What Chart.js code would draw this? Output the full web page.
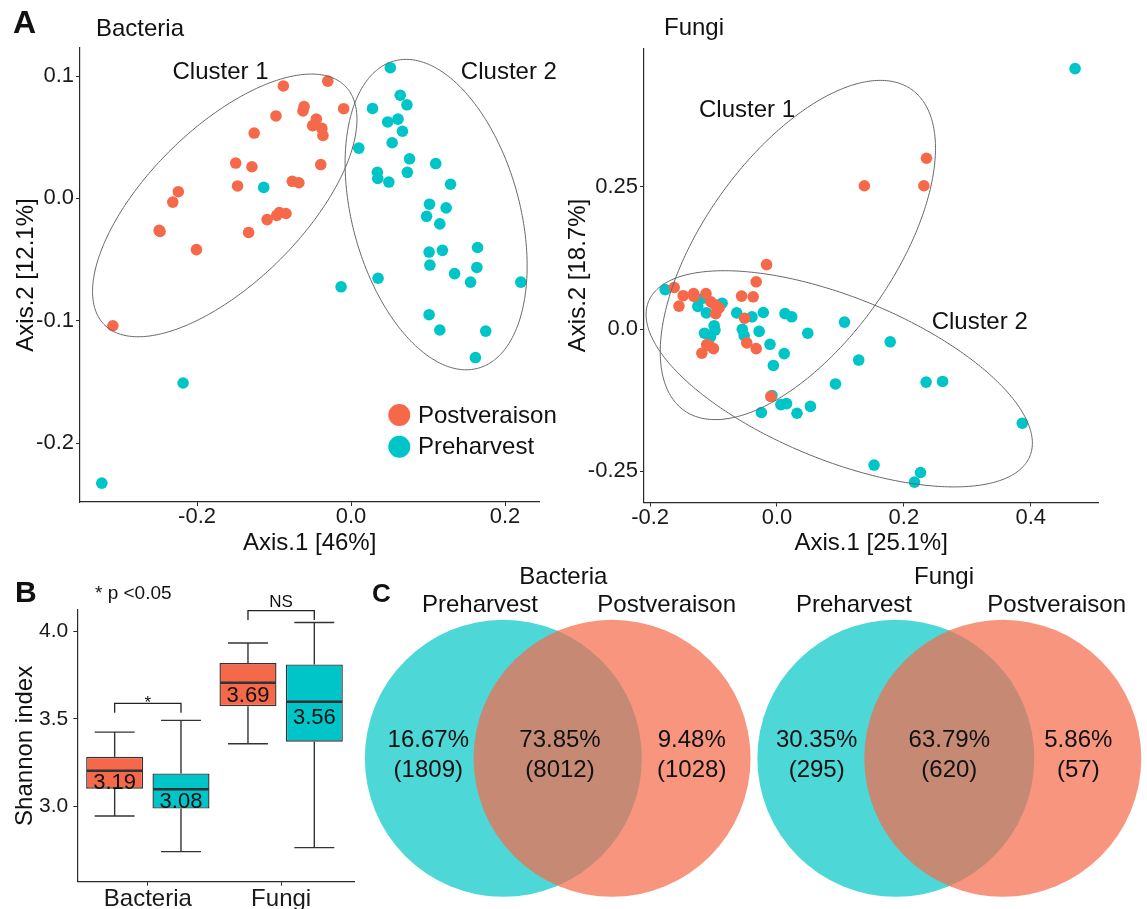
<!DOCTYPE html>
<html>
<head>
<meta charset="utf-8">
<script src="https://cdn.jsdelivr.net/npm/chart.js@4.4.0/dist/chart.umd.min.js"></script>
<style>
html,body{margin:0;padding:0;background:#fff;}
#wrap{position:relative;width:1147px;height:909px;overflow:hidden;background:#fff;}
canvas{position:absolute;}
</style>
</head>
<body>
<div id="wrap">
<canvas id="a1" width="560" height="560" style="left:0;top:0;"></canvas>
<canvas id="a2" width="587" height="560" style="left:560px;top:0;"></canvas>
<canvas id="b" width="360" height="349" style="left:0;top:560px;"></canvas>
<canvas id="c" width="792" height="354" style="left:355px;top:555px;"></canvas>
</div>
<script>
// ================= DATA =================
// Panel A - PCoA, Bacteria
const bacteriaPostveraison = [
  [-0.0879,0.0919],[-0.0302,0.0958],[-0.0096,0.0733],[-0.0610,0.0750],[-0.0624,0.0715],
  [-0.0975,0.0674],[-0.0451,0.0648],[-0.0499,0.0595],[-0.0379,0.0572],[-0.0365,0.0514],
  [-0.1258,0.0534],[-0.1498,0.0289],[-0.1287,0.0259],[-0.0393,0.0277],[-0.1474,0.0102],
  [-0.0763,0.0140],[-0.0677,0.0128],[-0.2243,0.0055],[-0.2315,-0.0030],[-0.2492,-0.0261],
  [-0.2480,-0.0270],[-0.2008,-0.0418],[-0.1330,-0.0278],[-0.1090,-0.0173],[-0.0965,-0.0138],
  [-0.0931,-0.0115],[-0.0845,-0.0123],[-0.3093,-0.1040]
];
const bacteriaPreharvest = [
  [0.0510,0.1068],[0.0639,0.0843],[0.0726,0.0765],[0.0279,0.0735],[0.0610,0.0648],
  [0.0476,0.0625],[0.0668,0.0549],[0.0534,0.0455],[0.0101,0.0411],[0.0760,0.0324],
  [0.1100,0.0285],[0.0342,0.0213],[0.0731,0.0213],[0.0347,0.0163],[0.0491,0.0134],
  [0.1292,0.0116],[-0.1134,0.0090],[0.1019,-0.0047],[0.1235,-0.0077],[0.0981,-0.0146],
  [0.1153,-0.0208],[0.1643,-0.0401],[0.1014,-0.0438],[0.1187,-0.0424],[0.1024,-0.0544],
  [0.1634,-0.0564],[0.1345,-0.0614],[0.0351,-0.0652],[0.1552,-0.0684],[0.2205,-0.0684],
  [-0.0129,-0.0722],[0.1014,-0.0950],[0.1153,-0.1075],[0.1749,-0.1084],[0.1615,-0.1300],
  [-0.2181,-0.1508],[-0.3237,-0.2326]
];
// Panel A - PCoA, Fungi
const fungiPostveraison = [
  [0.2356,0.3002],[0.1377,0.2519],[0.2315,0.2519],[-0.0164,0.1133],[-0.0328,0.0831],
  [-0.1620,0.0731],[-0.1478,0.0587],[-0.1314,0.0624],[-0.1308,0.0574],[-0.1119,0.0624],
  [-0.1545,0.0404],[-0.1042,0.0480],[-0.0983,0.0430],[-0.0913,0.0373],[-0.0966,0.0272],
  [-0.0558,0.0580],[-0.0375,0.0568],[-0.0511,0.0191],[-0.0476,-0.0242],[-0.0328,-0.0342],
  [-0.1107,-0.0273],[-0.1061,-0.0292],[-0.1001,-0.0342],[-0.1184,-0.0423],[-0.0098,-0.1183]
];
const fungiPreharvest = [
  [0.4698,0.4577],[-0.1762,0.0694],[-0.1166,0.0543],[-0.1248,0.0399],[-0.1113,0.0285],
  [-0.0865,0.0455],[-0.0990,0.0060],[-0.0977,-0.0016],[-0.1143,-0.0072],[-0.1048,-0.0135],
  [-0.0635,0.0285],[-0.0394,0.0216],[-0.0216,0.0292],[0.0126,0.0272],[0.0232,0.0216],
  [-0.0547,-0.0004],[-0.0517,-0.0116],[-0.0281,-0.0040],[-0.0110,-0.0267],[0.0114,-0.0430],
  [-0.0057,-0.0638],[0.0485,-0.0072],[0.1064,0.0123],[0.1784,-0.0223],[0.1288,-0.0543],
  [0.0922,-0.0963],[0.2350,-0.0931],[0.2610,-0.0919],[-0.0080,-0.1165],[0.0061,-0.1326],
  [0.0150,-0.1309],[-0.0246,-0.1465],[0.0315,-0.1478],[0.0527,-0.1358],[0.3866,-0.1653],
  [0.1530,-0.2388],[0.2262,-0.2519],[0.2167,-0.2688]
];
// Cluster ellipses (centre, horizontal / vertical half-extent, phase cosine) in data units
const bacteriaEllipses = [
  {label:'Cluster 1', cx:-0.164, cy:-0.0057, rx:0.1717, ry:0.1073, cosPhi:0.655},
  {label:'Cluster 2', cx:0.1105, cy:-0.0132, rx:0.1182, ry:0.1268, cosPhi:-0.33}
];
const fungiEllipses = [
  {label:'Cluster 1', cx:0.0329, cy:0.139, rx:0.2169, ry:0.298, cosPhi:0.60},
  {label:'Cluster 2', cx:0.0981, cy:-0.0873, rx:0.3044, ry:0.1899, cosPhi:-0.595}
];
const bacteriaXTicks = [-0.2, 0, 0.2];
const bacteriaXTickLabels = ['-0.2','0.0','0.2'];
const bacteriaYTicks = [-0.2, -0.1, 0, 0.1];
const bacteriaYTickLabels = ['-0.2','-0.1','0.0','0.1'];
const fungiXTicks = [-0.2, 0, 0.2, 0.4];
const fungiXTickLabels = ['-0.2','0.0','0.2','0.4'];
const fungiYTicks = [-0.25, 0, 0.25];
const fungiYTickLabels = ['-0.25','0.0','0.25'];

// Panel B - Shannon index box plots
const shannonCategories = ['Bacteria','Fungi'];
const postWhiskerLow  = [2.943, 3.357];
const postQ1          = [3.099, 3.573];
const postMedian      = [3.202, 3.707];
const postQ3          = [3.282, 3.820];
const postWhiskerHigh = [3.424, 3.935];
const postMean        = [3.19, 3.69];
const preWhiskerLow   = [2.738, 2.761];
const preQ1           = [2.985, 3.369];
const preMedian       = [3.096, 3.598];
const preQ3           = [3.187, 3.812];
const preWhiskerHigh  = [3.491, 4.053];
const preMean         = [3.08, 3.56];
const shannonYTicks = [3.0, 3.5, 4.0];
const shannonYTickLabels = ['3.0','3.5','4.0'];
const significance = ['*','NS'];

// Panel C - Venn diagrams (only Preharvest, shared, only Postveraison)
const vennTitles = ['Bacteria','Fungi'];
const vennSetNames = ['Preharvest','Postveraison'];
const bacteriaVennCounts = [1809, 8012, 1028];
const fungiVennCounts = [295, 620, 57];

// ================= STYLE / LAYOUT =================
const FONT = "'Liberation Sans', Arial, Helvetica, sans-serif";
const ORANGE = '#F5694A';
const TEAL = '#00C5C8';
const INK = '#111111';
const AXIS = '#2a2a2a';

function txt(ctx, s, x, y, size, o) {
  o = o || {};
  ctx.save();
  ctx.font = (o.bold ? 'bold ' : '') + size + 'px ' + FONT;
  ctx.fillStyle = o.color || INK;
  ctx.textAlign = o.align || 'left';
  ctx.textBaseline = o.baseline || 'alphabetic';
  ctx.fillText(s, x, y);
  ctx.restore();
}

function linAxis(o) {
  return {
    type: 'linear', position: o.pos, min: o.min, max: o.max, offset: false,
    afterBuildTicks: s => { s.ticks = o.ticks.map(v => ({value: v})); },
    afterFit: s => { if (o.pos === 'left') s.width = o.size; else s.height = o.size; },
    ticks: {
      callback: (v, i) => o.labels[i],
      font: {family: FONT, size: o.tickSize || 22}, color: '#1a1a1a',
      padding: o.tickPad, autoSkip: false, maxRotation: 0, includeBounds: false
    },
    grid: {display: true, offset: false, drawOnChartArea: false, drawTicks: true, tickLength: 4, color: AXIS, lineWidth: 1},
    border: {display: true, color: AXIS, width: 1.2},
    title: o.title ? {display: true, text: o.title, font: {family: FONT, size: 24}, color: INK, padding: o.titlePad} : {display: false}
  };
}

function drawEllipse(chart, e) {
  const xs = chart.scales.x, ys = chart.scales.y, ctx = chart.ctx;
  const phi = Math.acos(e.cosPhi);
  ctx.save();
  ctx.beginPath();
  for (let i = 0; i <= 360; i++) {
    const t = i * Math.PI / 180;
    const px = xs.getPixelForValue(e.cx + e.rx * Math.cos(t));
    const py = ys.getPixelForValue(e.cy + e.ry * Math.cos(t - phi));
    if (i === 0) ctx.moveTo(px, py); else ctx.lineTo(px, py);
  }
  ctx.closePath();
  ctx.strokeStyle = '#666';
  ctx.lineWidth = 1;
  ctx.stroke();
  ctx.restore();
}

function scatterChart(id, cfg) {
  return new Chart(document.getElementById(id), {
    type: 'scatter',
    data: {datasets: [
      {label: 'Postveraison', data: cfg.post.map(p => ({x: p[0], y: p[1]})), backgroundColor: ORANGE, borderWidth: 0, pointRadius: 5.8, pointHoverRadius: 5.8},
      {label: 'Preharvest', data: cfg.pre.map(p => ({x: p[0], y: p[1]})), backgroundColor: TEAL, borderWidth: 0, pointRadius: 5.8, pointHoverRadius: 5.8}
    ]},
    options: {
      responsive: false, animation: false, events: [],
      layout: {padding: cfg.padding},
      plugins: {legend: {display: false}, tooltip: {enabled: false}},
      scales: {x: linAxis(cfg.x), y: linAxis(cfg.y)}
    },
    plugins: [{id: 'ov_' + id, afterDatasetsDraw: cfg.draw}]
  });
}

// ---------- Panel A, Bacteria ----------
scatterChart('a1', {
  post: bacteriaPostveraison, pre: bacteriaPreharvest,
  padding: {left: 0, top: 48, right: 20.7, bottom: 0},
  x: {pos: 'bottom', min: -0.352, max: 0.2445, ticks: bacteriaXTicks, labels: bacteriaXTickLabels, size: 58, tickPad: -2, title: 'Axis.1 [46%]', titlePad: {top: 0, bottom: 2}},
  y: {pos: 'left', min: -0.248, max: 0.1229, ticks: bacteriaYTicks, labels: bacteriaYTickLabels, size: 80, tickPad: 2, title: 'Axis.2 [12.1%]', titlePad: {top: 11.6, bottom: 0}},
  draw: chart => {
    const ctx = chart.ctx, xs = chart.scales.x, ys = chart.scales.y;
    bacteriaEllipses.forEach(e => drawEllipse(chart, e));
    txt(ctx, 'A', 13, 33, 32, {bold: true});
    txt(ctx, 'Bacteria', 96, 36, 24);
    txt(ctx, bacteriaEllipses[0].label, xs.getPixelForValue(-0.1695), ys.getPixelForValue(0.0977), 24, {align: 'center'});
    txt(ctx, bacteriaEllipses[1].label, xs.getPixelForValue(0.205), ys.getPixelForValue(0.0977), 24, {align: 'center'});
    // legend
    [[ORANGE, 'Postveraison', 415, 422.7], [TEAL, 'Preharvest', 446.7, 454]].forEach(l => {
      ctx.save(); ctx.fillStyle = l[0]; ctx.beginPath(); ctx.arc(399.3, l[2], 11, 0, Math.PI * 2); ctx.fill(); ctx.restore();
      txt(ctx, l[1], 418, l[3], 24);
    });
  }
});

// ---------- Panel A, Fungi ----------
scatterChart('a2', {
  post: fungiPostveraison, pre: fungiPreharvest,
  padding: {left: 0, top: 48.5, right: 48.7, bottom: 0},
  x: {pos: 'bottom', min: -0.2096, max: 0.5064, ticks: fungiXTicks, labels: fungiXTickLabels, size: 57.5, tickPad: -2, title: 'Axis.1 [25.1%]', titlePad: {top: 0, bottom: 2}},
  y: {pos: 'left', min: -0.3046, max: 0.493, ticks: fungiYTicks, labels: fungiYTickLabels, size: 84, tickPad: 2, title: 'Axis.2 [18.7%]', titlePad: {top: 3.6, bottom: 0}},
  draw: chart => {
    const ctx = chart.ctx, xs = chart.scales.x, ys = chart.scales.y;
    fungiEllipses.forEach(e => drawEllipse(chart, e));
    txt(ctx, 'Fungi', 104, 35, 24);
    txt(ctx, fungiEllipses[0].label, xs.getPixelForValue(-0.0473), ys.getPixelForValue(0.3726), 24, {align: 'center'});
    txt(ctx, fungiEllipses[1].label, xs.getPixelForValue(0.3195), ys.getPixelForValue(-0.0004), 24, {align: 'center'});
  }
});

// ---------- Panel B ----------
const boxGroups = [
  {low: postWhiskerLow, q1: postQ1, med: postMedian, q3: postQ3, high: postWhiskerHigh, mean: postMean},
  {low: preWhiskerLow, q1: preQ1, med: preMedian, q3: preQ3, high: preWhiskerHigh, mean: preMean}
];
const catPos = shannonCategories.map((c, i) => i + 1);   // discrete positions 1, 2
new Chart(document.getElementById('b'), {
  type: 'bar',
  data: {
    datasets: [
      {label: 'Postveraison', data: catPos.map((p, i) => ({x: p, y: [postQ1[i], postQ3[i]]})), backgroundColor: ORANGE, borderColor: '#333', borderWidth: 1.4, borderSkipped: false, categoryPercentage: 0.995, barPercentage: 0.86},
      {label: 'Preharvest', data: catPos.map((p, i) => ({x: p, y: [preQ1[i], preQ3[i]]})), backgroundColor: TEAL, borderColor: '#333', borderWidth: 1.4, borderSkipped: false, categoryPercentage: 0.995, barPercentage: 0.86}
    ]
  },
  options: {
    responsive: false, animation: false, events: [],
    layout: {padding: {left: 0, top: 50, right: 6, bottom: 0}},
    plugins: {legend: {display: false}, tooltip: {enabled: false}},
    scales: {
      x: {
        type: 'linear', offset: false, min: 0.471, max: 2.5465,
        afterBuildTicks: s => { s.ticks = catPos.map(v => ({value: v})); },
        afterFit: s => { s.height = 27.3; },
        ticks: {callback: (v, i) => shannonCategories[i], font: {family: FONT, size: 24}, color: '#1a1a1a', padding: -1, maxRotation: 0, autoSkip: false, includeBounds: false},
        grid: {display: true, offset: false, drawOnChartArea: false, drawTicks: true, tickLength: 4, color: AXIS},
        border: {display: true, color: AXIS, width: 1.2}
      },
      y: linAxis({pos: 'left', min: 2.5657, max: 4.1245, ticks: shannonYTicks, labels: shannonYTickLabels, size: 77.3, tickPad: 5, tickSize: 21, title: 'Shannon index', titlePad: {top: 10.6, bottom: 0}})
    }
  },
  plugins: [{id: 'ov_b', afterDatasetsDraw: chart => {
    const ctx = chart.ctx, ys = chart.scales.y;
    const line = (x1, y1, x2, y2, w, col) => { ctx.save(); ctx.strokeStyle = col || '#333'; ctx.lineWidth = w || 1.4; ctx.beginPath(); ctx.moveTo(x1, y1); ctx.lineTo(x2, y2); ctx.stroke(); ctx.restore(); };
    const centers = [];
    boxGroups.forEach((g, di) => {
      const meta = chart.getDatasetMeta(di);
      centers.push(meta.data.map(b => b.x));
      meta.data.forEach((bar, i) => {
        const x = bar.x, w = bar.width, cw = w * 0.7;
        const yH = ys.getPixelForValue(g.high[i]), yL = ys.getPixelForValue(g.low[i]);
        line(x, ys.getPixelForValue(g.q3[i]), x, yH);
        line(x, ys.getPixelForValue(g.q1[i]), x, yL);
        line(x - cw / 2, yH, x + cw / 2, yH);
        line(x - cw / 2, yL, x + cw / 2, yL);
        const yM = ys.getPixelForValue(g.med[i]);
        line(x - w / 2 + 0.7, yM, x + w / 2 - 0.7, yM, 2.6);
        txt(ctx, g.mean[i].toFixed(2), x, ys.getPixelForValue(g.mean[i]) + 15.8, 22, {align: 'center'});
      });
    });
    // significance brackets
    const br = [[3.589, 3.535, 5, 17], [4.1205, 4.067, -4, 17]];
    br.forEach((b, i) => {
      const x1 = centers[0][i], x2 = centers[1][i];
      const yt = ys.getPixelForValue(b[0]), yb = ys.getPixelForValue(b[1]);
      ctx.save(); ctx.strokeStyle = '#222'; ctx.lineWidth = 1.3; ctx.beginPath();
      ctx.moveTo(x1, yb); ctx.lineTo(x1, yt); ctx.lineTo(x2, yt); ctx.lineTo(x2, yb); ctx.stroke(); ctx.restore();
      txt(ctx, significance[i], (x1 + x2) / 2, yt + b[2], b[3], {align: 'center'});
    });
    txt(ctx, 'B', 15, 41.7, 30, {bold: true});
    txt(ctx, '* p <0.05', 95, 39, 19);
  }}]
});

// ---------- Panel C : Venn diagrams ----------
const VU = 138.5;                // pixels per venn unit (circle radius = 1 unit)
const vennLayout = [{left: 1.071, right: 1.856}, {left: 3.905, right: 4.677}];
const vennCY = 1.088;
const vennCounts = [bacteriaVennCounts, fungiVennCounts];
const vennTextPos = [
  {title: [208.3, 28.5], setL: [125, 57], setR: [311.7, 57], regions: [73.3, 205, 336.7]},
  {title: [589, 28.5], setL: [499, 57], setR: [701.7, 57], regions: [461.7, 594.3, 723.3]}
];
new Chart(document.getElementById('c'), {
  type: 'bubble',
  data: {datasets: [
    {label: 'Postveraison', data: vennLayout.map(v => ({x: v.right, y: vennCY, r: VU})), backgroundColor: 'rgba(244,109,79,0.725)', borderWidth: 0, hoverRadius: 0, clip: false},
    {label: 'Preharvest', data: vennLayout.map(v => ({x: v.left, y: vennCY, r: VU})), backgroundColor: '#4DD7D6', borderWidth: 0, hoverRadius: 0, clip: false}
  ]},
  options: {
    responsive: false, animation: false, events: [],
    layout: {padding: 0, autoPadding: false},
    plugins: {legend: {display: false}, tooltip: {enabled: false}},
    scales: {
      x: {type: 'linear', display: false, min: 0, max: 792 / VU},
      y: {type: 'linear', display: false, min: 0, max: 354 / VU}
    }
  },
  plugins: [{id: 'ov_c', afterDatasetsDraw: chart => {
    const ctx = chart.ctx, ys = chart.scales.y;
    const cy = ys.getPixelForValue(vennCY);
    vennCounts.forEach((counts, k) => {
      const p = vennTextPos[k];
      const total = counts.reduce((a, b) => a + b, 0);
      txt(ctx, vennTitles[k], p.title[0], p.title[1], 24, {align: 'center'});
      txt(ctx, vennSetNames[0], p.setL[0], p.setL[1], 24, {align: 'center'});
      txt(ctx, vennSetNames[1], p.setR[0], p.setR[1], 24, {align: 'center'});
      counts.forEach((c, j) => {
        txt(ctx, (c / total * 100).toFixed(2) + '%', p.regions[j], cy - 11.6, 24, {align: 'center'});
        txt(ctx, '(' + c + ')', p.regions[j], cy + 18.4, 24, {align: 'center'});
      });
    });
    txt(ctx, 'C', 17, 46.7, 26, {bold: true});
  }}]
});
</script>
</body>
</html>
